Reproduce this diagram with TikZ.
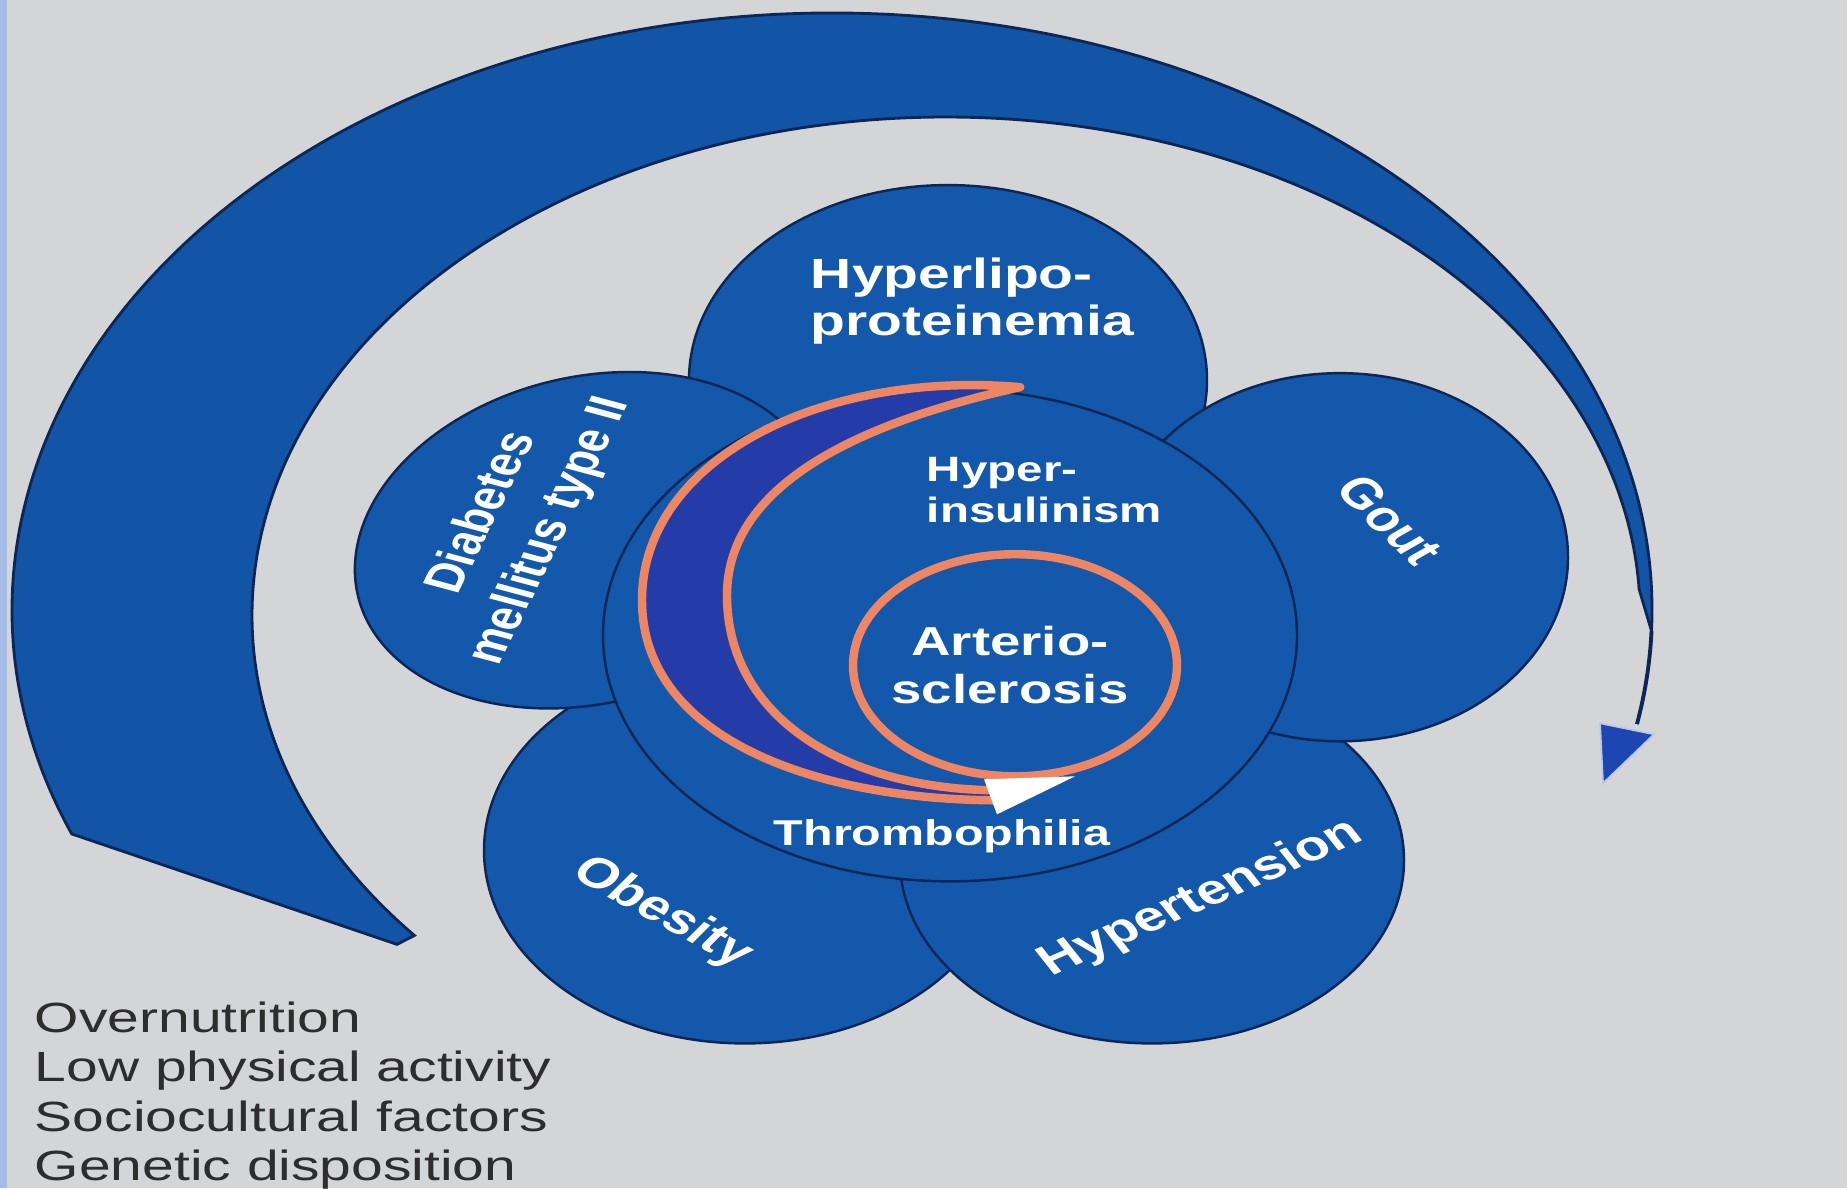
\documentclass[tikz,border=0pt]{standalone}
\usepackage{fontspec}
\setmainfont{Liberation Sans}

\definecolor{bggray}{RGB}{212,213,215}
\definecolor{stripblue}{RGB}{165,188,232}
\definecolor{petalblue}{RGB}{19,88,170}
\definecolor{arcblue}{RGB}{18,84,166}
\definecolor{edgenavy}{RGB}{12,38,85}
\definecolor{crescentblue}{RGB}{36,60,168}
\definecolor{ringorange}{RGB}{238,134,100}
\definecolor{factorgray}{RGB}{45,45,45}
\definecolor{tipblue}{RGB}{30,70,178}

\tikzset{
  petal/.style={fill=petalblue, draw=edgenavy, line width=0.7pt},
  arcband/.style={fill=arcblue, draw=edgenavy, line width=0.8pt},
  ring/.style={draw=ringorange, line width=2.4pt},
  petallabel/.style={text=white, font=\bfseries\fontsize{12}{13.4}\selectfont, align=center, inner sep=0pt, transform shape},
  factor/.style={text=factorgray, font=\fontsize{12}{14}\selectfont, anchor=base west, inner sep=0pt, transform shape}
}

\begin{document}
\begin{tikzpicture}[x=0.007407cm, y=-0.01cm, xscale=1.35]
    % Background
    \fill[bggray] (0,0) rectangle (1847,1188);
    \fill[stripblue] (0,0) rectangle (7,1188);
    \useasboundingbox (0,0) rectangle (1847,1188);

    % Big sweeping arrow round the petals
    \filldraw[arcband] (1651.5,630.8) arc[start angle=2, end angle=-202, x radius=820, y radius=597]
        -- (397,944) -- (414.4,935.1)
        arc[start angle=140, end angle=357, x radius=694, y radius=498] -- cycle;
    \draw[edgenavy, line width=1.1pt] (1651.5,630.8) arc[start angle=2, end angle=11, x radius=820, y radius=597];
    \filldraw[fill=tipblue, draw=white!70!tipblue, line width=0.5pt] (1600,723) -- (1654,734) -- (1603,783) -- cycle;

    % Petals, back to front
    \filldraw[petal] (948,380) ellipse[x radius=259, y radius=195];  % hyperlipoproteinemia
    \filldraw[petal] (745,850) ellipse[x radius=261, y radius=193];  % obesity
    \filldraw[petal] (1152,860) ellipse[x radius=252, y radius=183]; % hypertension
    \filldraw[petal] (1340,557) ellipse[x radius=228, y radius=184]; % gout
    \filldraw[petal, rotate around={40:(589,540)}] (589,540) ellipse[x radius=1.85cm, y radius=1.55cm]; % diabetes
    \filldraw[petal] (950,635) ellipse[x radius=347, y radius=246];  % hyperinsulinism

    % Crescent and inner ring
    \filldraw[ring, fill=crescentblue, line join=round] (1020,387) .. controls (820,370) and (642,460) .. (642,600)
        .. controls (642,740) and (820,800) .. (1000,800) -- (1000,790)
        .. controls (850,790) and (727,720) .. (727,595)
        .. controls (727,480) and (870,420) .. cycle;
    \draw[ring] (1015,665) ellipse[x radius=162, y radius=111];
    \fill[white] (984,779) -- (1075,776) -- (997,814) -- cycle;

    % Labels
    \node[petallabel, align=left, anchor=west] (hyperlipo) at (810,301) {Hyperlipo-\\proteinemia};
    \node[petallabel, font=\bfseries\fontsize{11.5}{15}\selectfont, rotate=70] (diabetes) at (517,522) {Diabetes\\mellitus type II};
    \node[petallabel, rotate=-52.5] (gout) at (1390,520) {Gout};
    \node[petallabel, rotate=-36.6] (obesity) at (662,913) {Obesity};
    \node[petallabel, rotate=30.4] (hypertension) at (1201,898) {Hypertension};
    \node[petallabel, align=left, anchor=west, font=\bfseries\fontsize{10}{11.7}\selectfont] (hyperins) at (926,490) {Hyper-\\insulinism};
    \node[petallabel, font=\bfseries\fontsize{11.5}{13.6}\selectfont] (arterio) at (1010,665) {Arterio-\\sclerosis};
    \node[petallabel, anchor=base, font=\bfseries\fontsize{10.2}{11}\selectfont] (thrombo) at (942,845) {Thrombophilia};

    % Risk factors
    \foreach \txt [count=\i from 0] in {Overnutrition, Low physical activity, Sociocultural factors, Genetic disposition}
        \node[factor] (factor\i) at (34,1032+49.5*\i) {\txt};
\end{tikzpicture}
\end{document}
